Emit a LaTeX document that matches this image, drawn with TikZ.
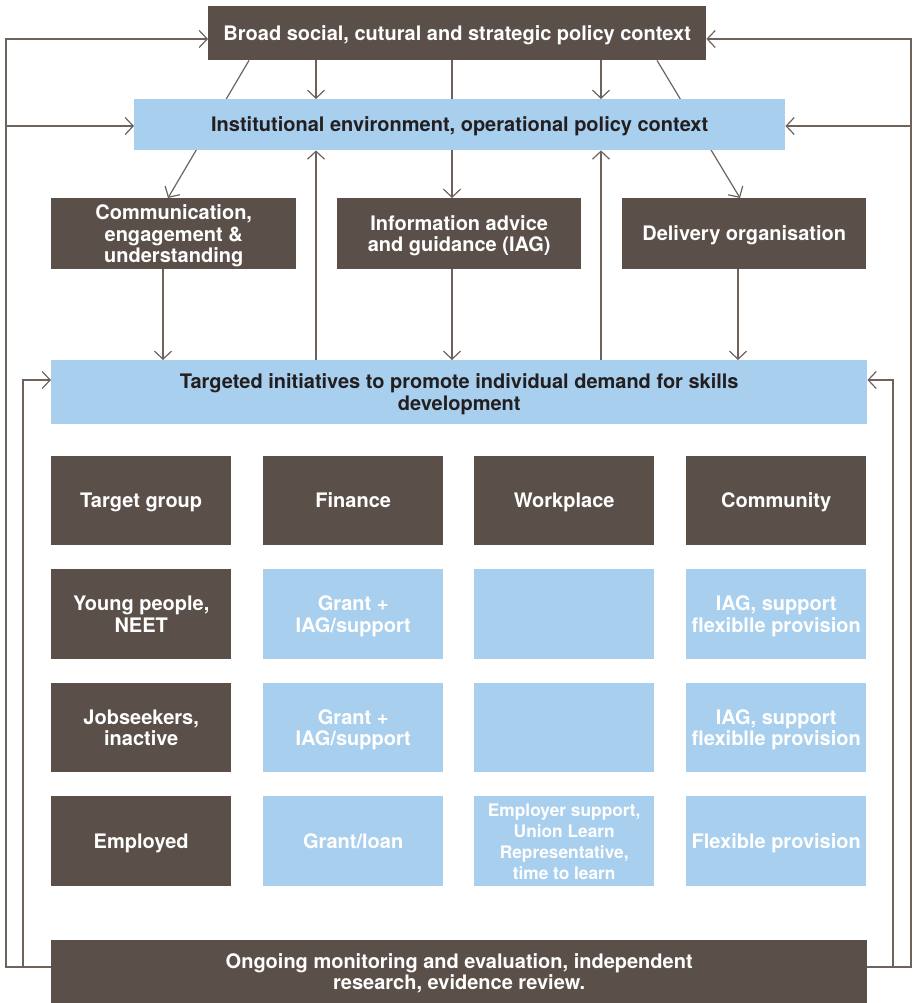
\documentclass[tikz,border=0pt]{standalone}
\usepackage{fontspec}
\setmainfont{TeX Gyre Heros}
\usetikzlibrary{arrows.meta,calc,backgrounds}
\definecolor{dk}{HTML}{5B4F49}
\definecolor{lb}{HTML}{A8CFEE}
\definecolor{ln}{HTML}{6E625D}
\definecolor{tx}{HTML}{231F20}
\begin{document}
\begin{tikzpicture}[x=1pt,y=-1pt,
 box/.style={anchor=north west, inner sep=0pt, font=\bfseries\fontsize{20}{21.5}\selectfont, align=center, text depth=0pt},
 one/.style={text height=18pt, text depth=3.6pt},
 dbox/.style={box, fill=dk, text=white},
 lbox/.style={box, fill=lb, text=tx},
 cbox/.style={box, fill=lb, text=white},
 line/.style={draw=ln, line width=1.2pt},
 conn/.style={line, -{Straight Barb[length=8pt,width=17pt,line width=1.2pt]}},
 ]
\useasboundingbox (0,0) rectangle (914,1003);
% top boxes
\node[dbox, one, minimum width=498, minimum height=54] (broad) at (208,6) {Broad social, cutural and strategic policy context};
\node[lbox, one, minimum width=651, minimum height=51] (inst) at (134,99) {Institutional environment, operational policy context};
\node[dbox, minimum width=245, minimum height=71] (comm) at (51,198) {Communication,\\engagement \&\\understanding};
\node[dbox, minimum width=244, minimum height=71] (iag) at (337,198) {Information advice\\and guidance (IAG)};
\node[dbox, one, minimum width=244, minimum height=71] (deliv) at (622,198) {Delivery organisation};
\node[lbox, minimum width=816, minimum height=64] (targ) at (51,360) {Targeted initiatives to promote individual demand for skills\\development};
% grid
\node[dbox, one, minimum width=180, minimum height=89] (g11) at (51,456) {Target group};
\node[dbox, one, minimum width=180, minimum height=89] (g12) at (263,456) {Finance};
\node[dbox, one, minimum width=180, minimum height=89] (g13) at (474,456) {Workplace};
\node[dbox, one, minimum width=180, minimum height=89] (g14) at (686,456) {Community};
\node[dbox, minimum width=180, minimum height=90] (g21) at (51,569) {Young people,\\NEET};
\node[cbox, minimum width=180, minimum height=90] (g22) at (263,569) {Grant +\\IAG/support};
\node[cbox, minimum width=180, minimum height=90] (g23) at (474,569) {};
\node[cbox, minimum width=180, minimum height=90] (g24) at (686,569) {IAG, support\\flexiblle provision};
\node[dbox, minimum width=180, minimum height=89] (g31) at (51,683) {Jobseekers,\\inactive};
\node[cbox, minimum width=180, minimum height=89] (g32) at (263,683) {Grant +\\IAG/support};
\node[cbox, minimum width=180, minimum height=89] (g33) at (474,683) {};
\node[cbox, minimum width=180, minimum height=89] (g34) at (686,683) {IAG, support\\flexiblle provision};
\node[dbox, one, minimum width=180, minimum height=90] (g41) at (51,796) {Employed};
\node[cbox, minimum width=180, minimum height=90] (g42) at (263,796) {Grant/loan};
\node[cbox, minimum width=180, minimum height=90, font=\bfseries\fontsize{17.3}{21}\selectfont] (g43) at (474,796) {Employer support,\\Union Learn\\Representative,\\time to learn};
\node[cbox, one, minimum width=180, minimum height=90] (g44) at (686,796) {Flexible provision};
% bottom
\node[dbox, minimum width=816, minimum height=63] (bot) at (51,940) {Ongoing monitoring and evaluation, independent\\research, evidence review.};
% connectors
\coordinate (d1) at ($(broad.south west)+(41,0)$);
\coordinate (d2) at ($(comm.north west)+(117,0)$);
\coordinate (d3) at ($(broad.south west)+(449,0)$);
\coordinate (d4) at ($(deliv.north west)+(118,0)$);
\coordinate (v1) at ($(broad.south west)+(108,0)$);
\coordinate (v2) at ($(broad.south west)+(244,0)$);
\coordinate (v3) at ($(broad.south west)+(393,0)$);
\coordinate (c1) at ($(comm.south west)+(112,0)$);
\coordinate (c3) at ($(deliv.south west)+(116,0)$);
\begin{scope}[on background layer]
\draw[conn] (d1) -- (d2);
\draw[conn] (d3) -- (d4);
\draw[conn] (v2) -- (v2 |- iag.north);
\end{scope}
\draw[conn] (v1) -- (v1 |- inst.north);
\draw[conn] (v3) -- (v3 |- inst.north);
\draw[conn] (v1 |- targ.north) -- (v1 |- inst.south);
\draw[conn] (v3 |- targ.north) -- (v3 |- inst.south);
\draw[conn] (c1) -- (c1 |- targ.north);
\draw[conn] (v2 |- iag.south) -- (v2 |- targ.north);
\draw[conn] (c3) -- (c3 |- targ.north);
% feedback loops
\coordinate (bl) at ($(bot.north west)+(0,27)$);
\coordinate (br) at ($(bot.north east)+(0,27)$);
\coordinate (ol) at (6,0);
\coordinate (il) at (23,0);
\coordinate (or) at (911,0);
\coordinate (ir) at (893,0);
\coordinate (bw) at ($(broad.north west)+(0,33)$);
\coordinate (be) at ($(broad.north east)+(0,33)$);
\coordinate (iw) at ($(inst.north west)+(0,27)$);
\coordinate (ie) at ($(inst.north east)+(0,27)$);
\coordinate (tw) at ($(targ.north west)+(0,20)$);
\coordinate (te) at ($(targ.north east)+(0,20)$);
\draw[conn] (bl) -- (ol |- bl) -- (ol |- bw) -- (bw);
\draw[conn] (ol |- iw) -- (iw);
\draw[conn] (il |- bl) -- (il |- tw) -- (tw);
\draw[conn] (br) -- (or |- br) -- (or |- be) -- (be);
\draw[conn] (or |- ie) -- (ie);
\draw[conn] (ir |- br) -- (ir |- te) -- (te);
\end{tikzpicture}
\end{document}
